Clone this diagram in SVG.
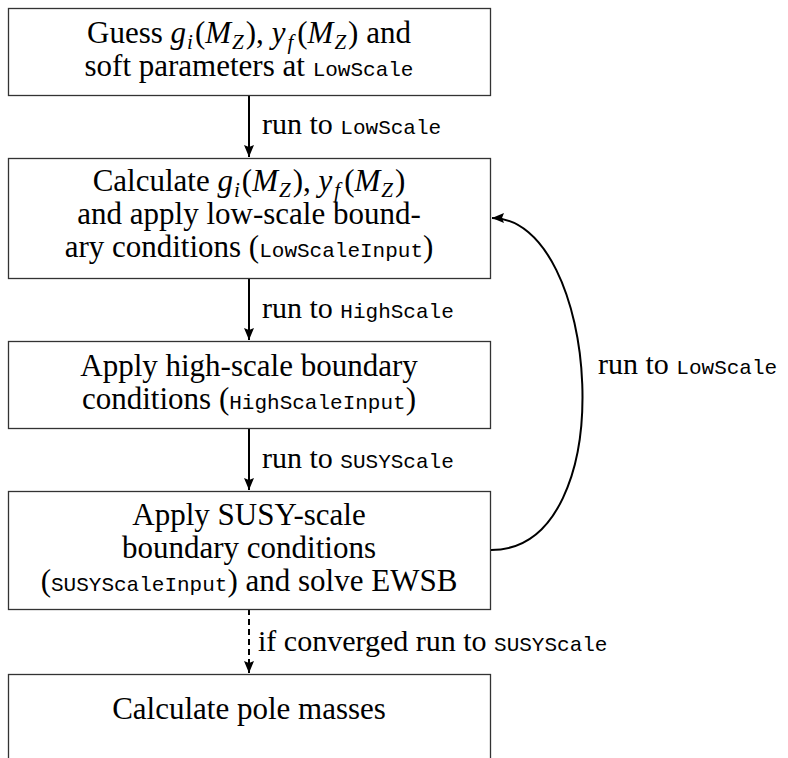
<svg xmlns="http://www.w3.org/2000/svg" width="788" height="758" viewBox="0 0 788 758">
<defs>
<style>
.box{fill:#fff;stroke:#333;stroke-width:1.3}
.t{font-family:"Liberation Serif","Times New Roman",serif;font-size:31px;fill:#000;text-anchor:middle}
.l{font-family:"Liberation Serif","Times New Roman",serif;font-size:30px;fill:#000}
.m{font-family:"Liberation Mono","Courier New",monospace;font-size:21px}
.i{font-style:italic}
.s{font-size:21px;font-style:italic}
.c{fill:none;stroke:#000;stroke-width:2}
</style>
<marker id="ah" markerUnits="userSpaceOnUse" markerWidth="13" markerHeight="11" refX="12" refY="5" orient="auto">
<path d="M0,0 L12,5 L0,10 L2,5 z" fill="#000"/>
</marker>
</defs>
<g id="connectors">
<path class="c" d="M249,95 V157" marker-end="url(#ah)"/>
<path class="c" d="M249,278 V340" marker-end="url(#ah)"/>
<path class="c" d="M249,428 V490" marker-end="url(#ah)"/>
<path class="c" d="M249,609 V673" stroke-dasharray="6 4" marker-end="url(#ah)"/>
<path class="c" d="M491,550 C625,550 600,218 492,218" marker-end="url(#ah)"/>
<text class="l" x="262" y="134">run to <tspan class="m">LowScale</tspan></text>
<text class="l" x="262" y="318">run to <tspan class="m">HighScale</tspan></text>
<text class="l" x="262" y="468">run to <tspan class="m">SUSYScale</tspan></text>
<text class="l" x="258" y="651">if converged run to <tspan class="m">SUSYScale</tspan></text>
<text class="l" x="598" y="374">run to <tspan class="m">LowScale</tspan></text>
</g>
<g id="n1">
<rect class="box" x="8.5" y="8.5" width="482" height="87"/>
<text class="t" x="249" y="43">Guess <tspan class="i">g</tspan><tspan class="s" dx="1" dy="6">i</tspan><tspan dx="2" dy="-6">(</tspan><tspan class="i">M</tspan><tspan class="s" dx="1" dy="6">Z</tspan><tspan dx="2" dy="-6">), </tspan><tspan class="i">y</tspan><tspan class="s" dx="2" dy="6">f</tspan><tspan dx="4" dy="-6">(</tspan><tspan class="i">M</tspan><tspan class="s" dx="1" dy="6">Z</tspan><tspan dx="2" dy="-6">) and</tspan></text>
<text class="t" x="249" y="76">soft parameters at <tspan class="m">LowScale</tspan></text>
</g>
<g id="n2">
<rect class="box" x="8.5" y="158.5" width="482" height="120"/>
<text class="t" x="249" y="191">Calculate <tspan class="i">g</tspan><tspan class="s" dx="1" dy="6">i</tspan><tspan dx="2" dy="-6">(</tspan><tspan class="i">M</tspan><tspan class="s" dx="1" dy="6">Z</tspan><tspan dx="2" dy="-6">), </tspan><tspan class="i">y</tspan><tspan class="s" dx="2" dy="6">f</tspan><tspan dx="4" dy="-6">(</tspan><tspan class="i">M</tspan><tspan class="s" dx="1" dy="6">Z</tspan><tspan dx="2" dy="-6">)</tspan></text>
<text class="t" x="249" y="224">and apply low-scale bound-</text>
<text class="t" x="249" y="257">ary conditions (<tspan class="m">LowScaleInput</tspan>)</text>
</g>
<g id="n3">
<rect class="box" x="8.5" y="341.5" width="482" height="87"/>
<text class="t" x="249" y="376">Apply high-scale boundary</text>
<text class="t" x="249" y="409">conditions (<tspan class="m">HighScaleInput</tspan>)</text>
</g>
<g id="n4">
<rect class="box" x="8.5" y="491.5" width="482" height="118"/>
<text class="t" x="249" y="525">Apply SUSY-scale</text>
<text class="t" x="249" y="558">boundary conditions</text>
<text class="t" x="249" y="591">(<tspan class="m">SUSYScaleInput</tspan>) and solve EWSB</text>
</g>
<g id="n5">
<rect class="box" x="8.5" y="674.5" width="482" height="100"/>
<text class="t" x="249" y="719">Calculate pole masses</text>
</g>
</svg>
